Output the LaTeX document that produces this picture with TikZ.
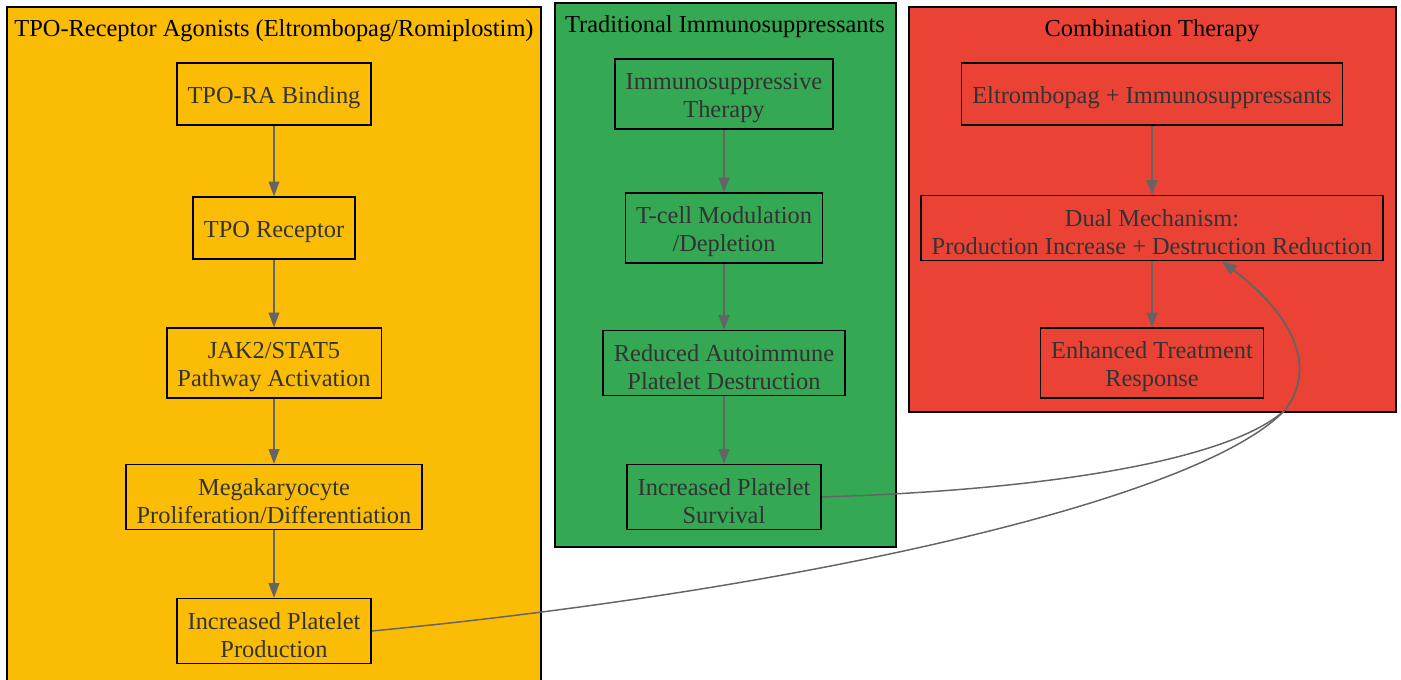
\documentclass[tikz,border=0pt]{standalone}
\usepackage{fontspec}
\setmainfont{Liberation Serif}
\usetikzlibrary{arrows.meta, positioning}
\definecolor{tpoyellow}{HTML}{FBBC05}
\definecolor{isgreen}{HTML}{34A853}
\definecolor{combred}{HTML}{EA4335}
\definecolor{edgegray}{HTML}{646464}
\definecolor{textgray}{HTML}{333333}

\begin{document}
\begin{tikzpicture}[x=0.75pt, y=-0.75pt,
    box/.style={draw=black, line width=1.1pt, align=center, inner xsep=8pt, inner ysep=4.5pt,
                minimum height=46.5pt, font=\fontsize{18.3}{21}\selectfont, text=textgray,
                execute at begin node={\rule{0pt}{18.5pt}}},
    twoline/.style={box, execute at begin node={\rule{0pt}{39.5pt}}},
    cluster/.style={draw=black, line width=1.1pt},
    lbl/.style={font=\fontsize{18.3}{21}\selectfont, text=black},
    flow/.style={draw=edgegray, line width=1.1pt, -{Triangle[length=11pt,width=8pt]}}]
  \useasboundingbox (0,0) rectangle (1401,679);

  % clusters
  \filldraw[cluster, fill=tpoyellow] (7,7) rectangle (541,684);
  \filldraw[cluster, fill=isgreen] (555,3) rectangle (896,547);
  \filldraw[cluster, fill=combred] (909,7) rectangle (1396,412);
  \node[lbl] (tpolbl) at (274,31) {TPO-Receptor Agonists (Eltrombopag/Romiplostim)};
  \node[lbl] (islbl) at (725,27) {Traditional Immunosuppressants};
  \node[lbl] (comblbl) at (1152,31) {Combination Therapy};

  % TPO-RA chain
  \node[box, fill=tpoyellow] (binding) at (274,94) {TPO-RA Binding};
  \node[box, fill=tpoyellow] (receptor) at (274,228) {TPO Receptor};
  \node[twoline, fill=tpoyellow] (jak) at (274,363) {JAK2/STAT5\\Pathway Activation};
  \node[twoline, fill=tpoyellow] (mega) at (274,497) {Megakaryocyte\\Proliferation/Differentiation};
  \node[twoline, fill=tpoyellow] (production) at (274,631) {Increased Platelet\\Production};

  % immunosuppressant chain
  \node[twoline, fill=isgreen] (ist) at (724,94) {Immunosuppressive\\Therapy};
  \node[twoline, fill=isgreen] (tcell) at (724,228) {T-cell Modulation\\/Depletion};
  \node[twoline, fill=isgreen] (reduced) at (724,363) {Reduced Autoimmune\\Platelet Destruction};
  \node[twoline, fill=isgreen] (survival) at (724,497) {Increased Platelet\\Survival};

  % combination chain
  \node[box, fill=combred] (combo) at (1152,94) {Eltrombopag + Immunosuppressants};
  \node[twoline, fill=combred] (dual) at (1152,228) {Dual Mechanism:\\Production Increase + Destruction Reduction};
  \node[twoline, fill=combred] (enhanced) at (1152,363) {Enhanced Treatment\\Response};

  \draw[flow] (binding) -- (receptor);
  \draw[flow] (receptor) -- (jak);
  \draw[flow] (jak) -- (mega);
  \draw[flow] (mega) -- (production);
  \draw[flow] (ist) -- (tcell);
  \draw[flow] (tcell) -- (reduced);
  \draw[flow] (reduced) -- (survival);
  \draw[flow] (combo) -- (dual);
  \draw[flow] (dual) -- (enhanced);

  % both effects feed the dual mechanism
  \draw[flow] (survival.east) .. controls (1050,490) and (1230,460) .. (1285,410)
    .. controls (1312,375) and (1305,325) .. ([xshift=52.5pt]dual.south);
  \draw[flow] (production.east) .. controls (800,590) and (1200,500) .. (1285,410)
    .. controls (1312,375) and (1305,325) .. ([xshift=52.5pt]dual.south);
\end{tikzpicture}
\end{document}
